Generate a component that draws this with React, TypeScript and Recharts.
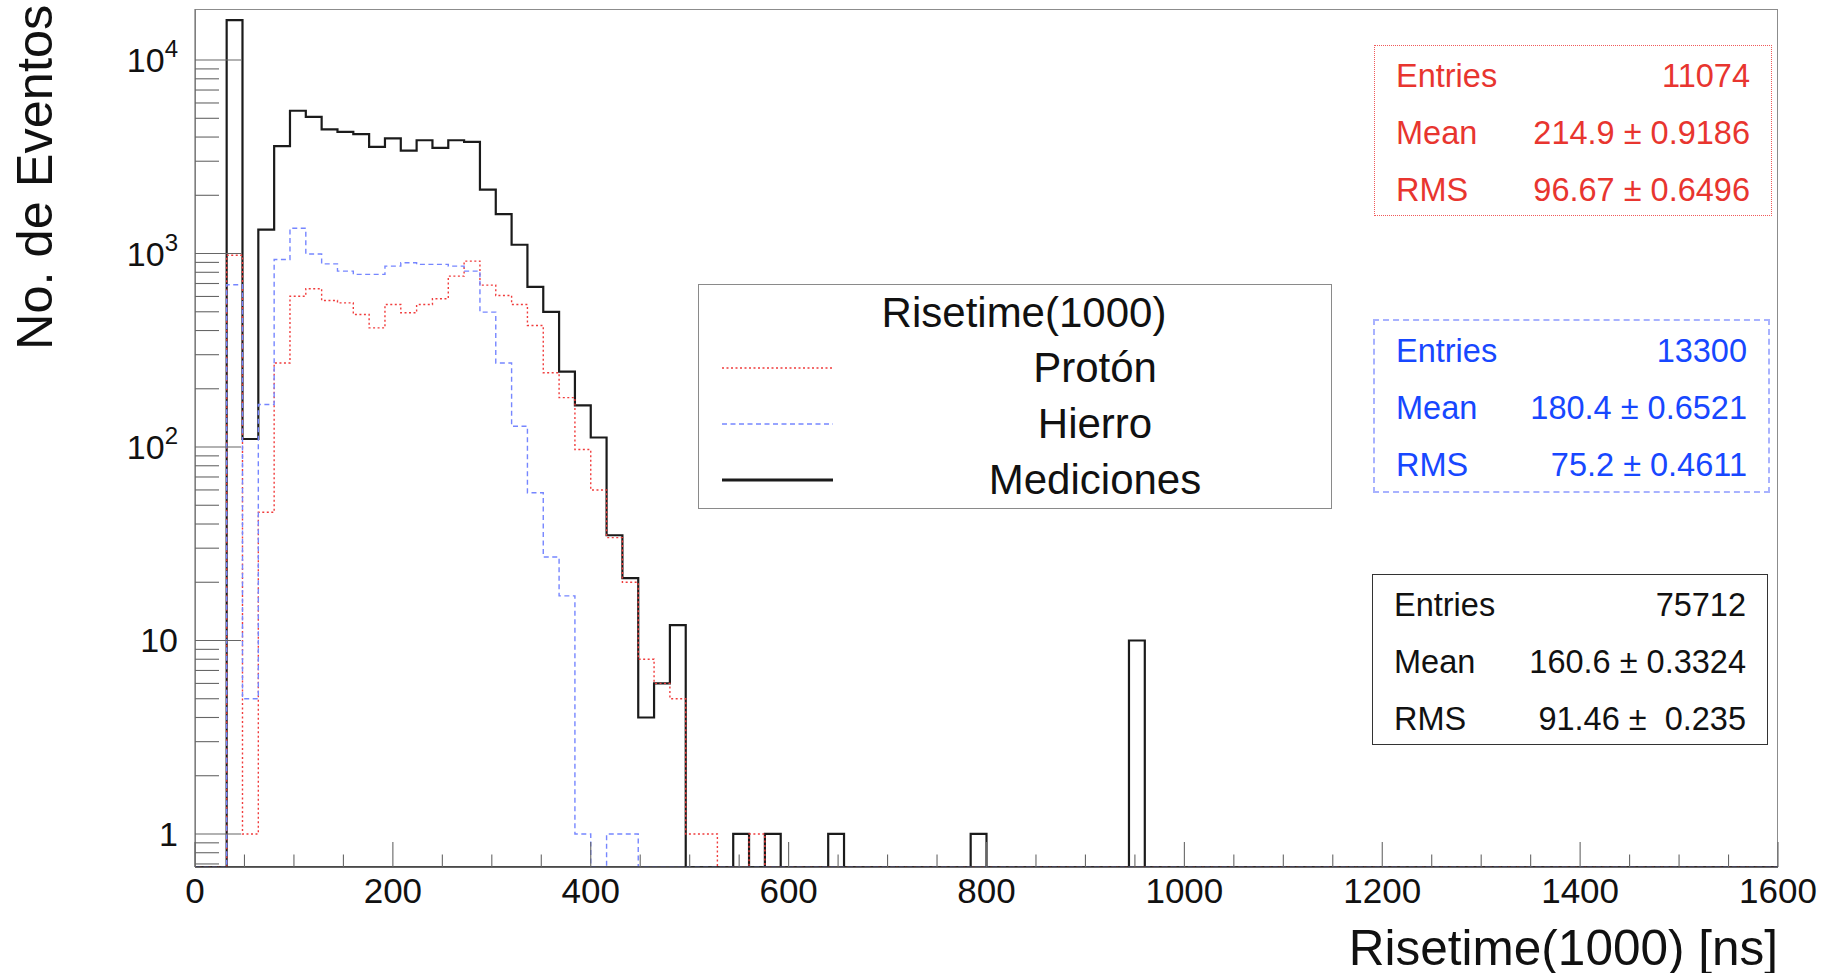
import React from 'react';
import { LineChart, Line, XAxis, YAxis, Legend } from 'recharts';

const FONT = '"Liberation Sans", Arial, Helvetica, sans-serif';

// histogram binning (16 ns per bin, 0..1600 ns)
const BIN_WIDTH = 16;
const X_MAX = 1600;
const Y_MIN = 0.675;
const Y_MAX = 18360;

// bin contents, bin 0 = [0,16)
const MEDICIONES = [
  0, 0, 16100, 110, 1330, 3590, 5470, 5090, 4380, 4250,
  4140, 3560, 3940, 3400, 3850, 3520, 3850, 3780, 2140, 1600,
  1110, 672, 499, 245, 164, 112, 35, 21, 4, 6,
  12, 0, 0, 0, 1, 0, 1, 0, 0, 0,
  1, 0, 0, 0, 0, 0, 0, 0, 0, 1,
  0, 0, 0, 0, 0, 0, 0, 0, 0, 10,
];
const PROTON = [
  0, 0, 980, 1, 46, 272, 602, 658, 572, 556,
  484, 413, 545, 494, 545, 584, 764, 914, 687, 607,
  545, 425, 242, 180, 97, 60, 34, 20, 8, 6,
  5, 1, 1, 0, 0, 1,
];
const HIERRO = [
  0, 0, 690, 5, 166, 932, 1350, 995, 884, 811,
  780, 780, 861, 896, 879, 879, 861, 811, 498, 272,
  128, 58, 27, 17, 1, 0, 1, 1,
];

const X_MAJOR = [0, 200, 400, 600, 800, 1000, 1200, 1400, 1600];
const X_MINOR = [50, 100, 150, 250, 300, 350, 450, 500, 550, 650, 700, 750, 850, 900, 950, 1050, 1100, 1150, 1250, 1300, 1350, 1450, 1500, 1550];
const Y_MAJOR = [1, 10, 100, 1000, 10000];
const Y_MINOR = [
  0.7, 0.8, 0.9, 2, 3, 4, 5, 6, 7, 8, 9,
  20, 30, 40, 50, 60, 70, 80, 90,
  200, 300, 400, 500, 600, 700, 800, 900,
  2000, 3000, 4000, 5000, 6000, 7000, 8000, 9000,
];

const STAT_PROTON = [['Entries', '11074'], ['Mean', '214.9 ± 0.9186'], ['RMS', '96.67 ± 0.6496']];
const STAT_HIERRO = [['Entries', '13300'], ['Mean', '180.4 ± 0.6521'], ['RMS', '75.2 ± 0.4611']];
const STAT_MEDICIONES = [['Entries', '75712'], ['Mean', '160.6 ± 0.3324'], ['RMS', '91.46 ±  0.235']];

const LEGEND_ORDER = ['Protón', 'Hierro', 'Mediciones'];

const SERIES = [
  { key: 'mediciones', name: 'Mediciones', values: MEDICIONES, stroke: '#1b1b1b', width: 2.2, legendWidth: 3, dash: undefined },
  { key: 'proton', name: 'Protón', values: PROTON, stroke: '#f03c3c', width: 1.4, legendWidth: 1.5, dash: '2 2.5' },
  { key: 'hierro', name: 'Hierro', values: HIERRO, stroke: '#7686ff', width: 1.4, legendWidth: 1.5, dash: '5 3.5' },
];

// empty bins sit on the bottom of the log frame
const floorLog = (v: number) => (v > 0 ? v : Y_MIN);

const rows: any[] = [];
MEDICIONES.forEach((_, i) => {
  const row: any = { x: i * BIN_WIDTH };
  SERIES.forEach((s) => { row[s.key] = floorLog(s.values[i] ?? 0); });
  rows.push(row);
});
[MEDICIONES.length * BIN_WIDTH, X_MAX].forEach((x) => {
  const row: any = { x };
  SERIES.forEach((s) => { row[s.key] = Y_MIN; });
  rows.push(row);
});

const renderYTick = (props: any) => {
  const { x, y, payload } = props;
  const v = payload.value;
  const major = Y_MAJOR.includes(v);
  const exp = Math.round(Math.log10(v));
  return (
    <g>
      <line x1={x} y1={y} x2={x + (major ? 46 : 24)} y2={y} stroke="#666" strokeWidth={1.1} />
      {major && (
        <text x={x - 17} y={y + 12} textAnchor="end" fontSize={34} fill="#111" fontFamily={FONT}>
          {exp >= 2 ? (
            <>
              10<tspan dy={-15} fontSize={24}>{exp}</tspan>
            </>
          ) : (
            String(v)
          )}
        </text>
      )}
    </g>
  );
};

const renderXTick = (props: any) => {
  const { x, y, payload } = props;
  const major = X_MAJOR.includes(payload.value);
  return (
    <g>
      <line x1={x} y1={y} x2={x} y2={y - (major ? 25 : 12.5)} stroke="#666" strokeWidth={1.1} />
      {major && (
        <text x={x} y={y + 36} textAnchor="middle" fontSize={35} fill="#111" fontFamily={FONT}>
          {payload.value}
        </text>
      )}
    </g>
  );
};

const renderLegend = (props: any) => {
  const payload = props.payload || [];
  const items = LEGEND_ORDER.map((n) => payload.find((p: any) => p.value === n)).filter(Boolean);
  return (
    <div
      style={{
        position: 'relative', width: 634, height: 225, border: '1.5px solid #8a8a8a',
        boxSizing: 'border-box', background: '#fff', fontFamily: FONT, color: '#111',
      }}
    >
      <div style={{ position: 'absolute', left: 25, width: 600, top: 4, height: 48, lineHeight: '48px', textAlign: 'center', fontSize: 42 }}>
        Risetime(1000)
      </div>
      {items.map((item: any, i: number) => {
        const s = SERIES.find((d) => d.name === item.value)!;
        const cy = 83 + i * 56;
        return (
          <React.Fragment key={item.value}>
            <svg style={{ position: 'absolute', left: 23, top: cy - 5 }} width={111} height={10}>
              <line x1={0} y1={5} x2={111} y2={5} stroke={item.color} strokeWidth={s.legendWidth} strokeDasharray={s.dash} />
            </svg>
            <div style={{ position: 'absolute', left: 196, width: 400, top: cy - 24, height: 48, lineHeight: '48px', textAlign: 'center', fontSize: 42 }}>
              {item.value}
            </div>
          </React.Fragment>
        );
      })}
    </div>
  );
};

const StatBox = ({ data, color, border, left, top, width, height }: any) => (
  <div style={{ position: 'absolute', left, top, width, height, border, boxSizing: 'border-box', background: '#fff', fontFamily: FONT, fontSize: 32.5, color }}>
    {data.map(([label, value]: string[], i: number) => (
      <div
        key={label}
        style={{ position: 'absolute', left: 21, right: 21, top: 10 + i * 57, height: 40, lineHeight: '40px', display: 'flex', justifyContent: 'space-between', whiteSpace: 'pre' }}
      >
        <span>{label}</span>
        <span>{value}</span>
      </div>
    ))}
  </div>
);

export default function App() {
  return (
    <div style={{ position: 'absolute', left: 0, top: 0, width: 1834, height: 973, background: '#fff', fontFamily: FONT }}>
      <div style={{ position: 'absolute', left: 195, top: 9, width: 1583, height: 858, border: '1px solid #8c8c8c', boxSizing: 'border-box' }} />
      <div style={{ position: 'absolute', left: 0, top: 0 }}>
        <LineChart width={1834} height={973} data={rows} margin={{ top: 9, right: 56, bottom: 56, left: 0 }}>
          <XAxis
            dataKey="x"
            type="number"
            domain={[0, X_MAX]}
            allowDataOverflow
            ticks={[...X_MAJOR, ...X_MINOR]}
            interval={0}
            height={50}
            tickSize={0}
            tickMargin={0}
            tickLine={false}
            axisLine={{ stroke: '#333', strokeWidth: 1.5 }}
            tick={renderXTick}
          />
          <YAxis
            type="number"
            scale="log"
            domain={[Y_MIN, Y_MAX]}
            allowDataOverflow
            ticks={[...Y_MAJOR, ...Y_MINOR]}
            interval={0}
            width={195}
            tickSize={0}
            tickMargin={0}
            tickLine={false}
            axisLine={{ stroke: '#777', strokeWidth: 1.2 }}
            tick={renderYTick}
          />
          {SERIES.map((s) => (
            <Line
              key={s.key}
              dataKey={s.key}
              name={s.name}
              type="stepAfter"
              stroke={s.stroke}
              strokeWidth={s.width}
              strokeDasharray={s.dash}
              dot={false}
              activeDot={false}
              isAnimationActive={false}
            />
          ))}
          <Legend
            layout="vertical"
            align="center"
            verticalAlign="middle"
            content={renderLegend}
            wrapperStyle={{ left: 698, top: 284, width: 634, height: 225 }}
          />
        </LineChart>
      </div>
      <StatBox data={STAT_PROTON} color="#e8352f" border="1.5px dotted #f05a5a" left={1374} top={45} width={398} height={171} />
      <StatBox data={STAT_HIERRO} color="#1747ff" border="2px dashed #a8b2ff" left={1373} top={319} width={397} height={174} />
      <StatBox data={STAT_MEDICIONES} color="#111" border="1.5px solid #333" left={1372} top={574} width={396} height={171} />
      <div
        style={{
          position: 'absolute', left: 10, top: 350, width: 344, textAlign: 'right', fontSize: 50.5, lineHeight: '50.5px',
          transform: 'rotate(-90deg)', transformOrigin: 'left top', whiteSpace: 'nowrap', color: '#111',
        }}
      >
        No. de Eventos
      </div>
      <div style={{ position: 'absolute', left: 1178, top: 923, width: 600, textAlign: 'right', fontSize: 49.5, lineHeight: '49.5px', whiteSpace: 'nowrap', color: '#111' }}>
        Risetime(1000) [ns]
      </div>
    </div>
  );
}
